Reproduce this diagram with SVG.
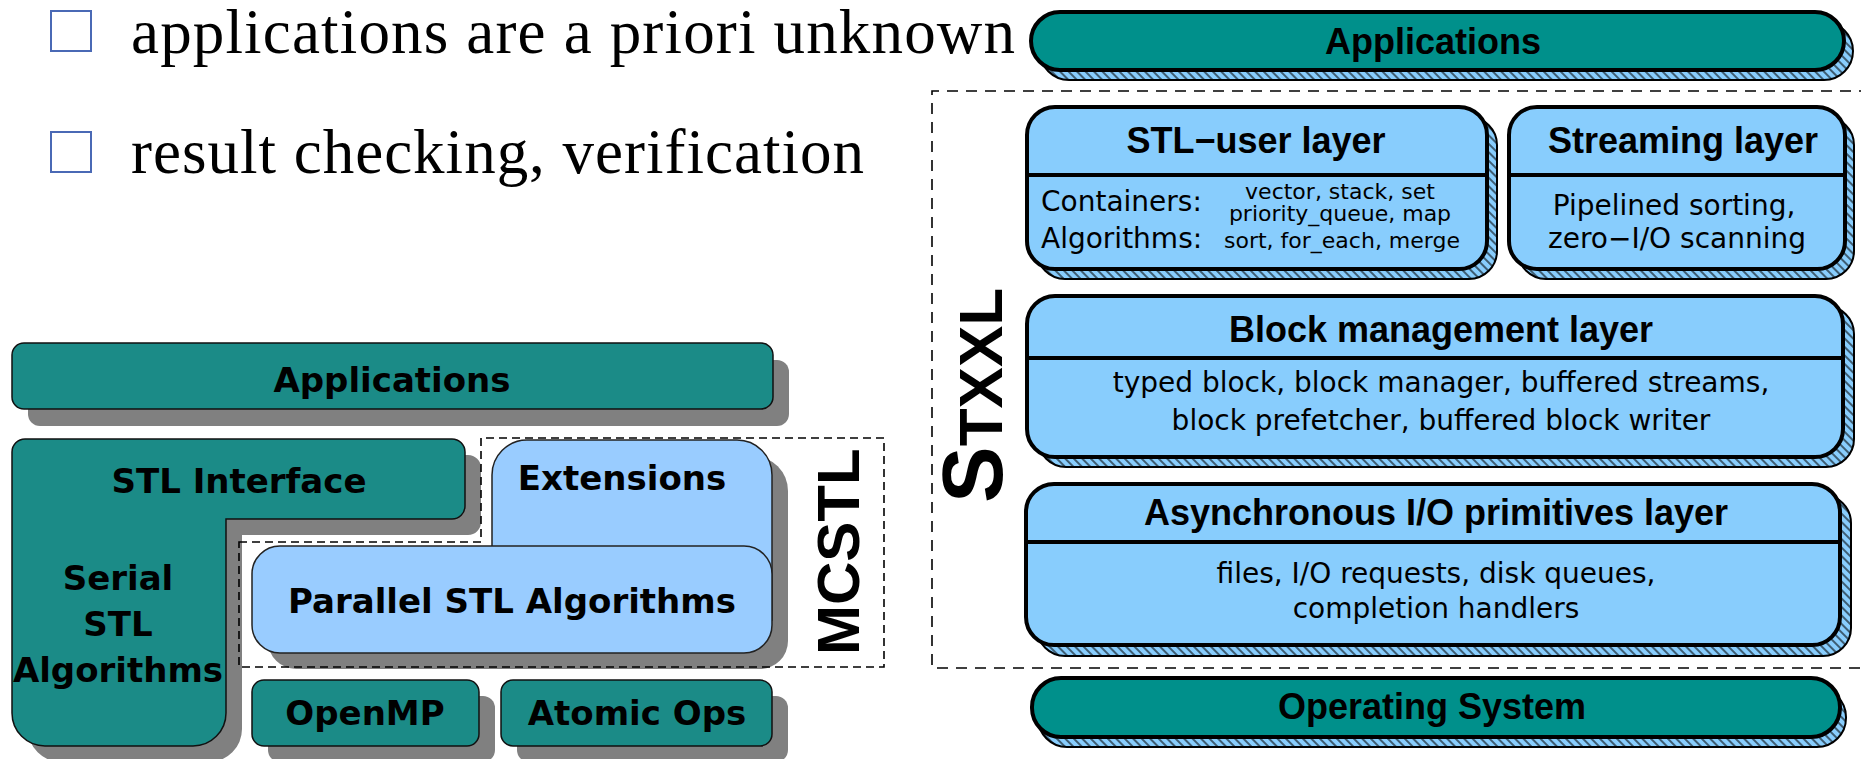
<svg xmlns="http://www.w3.org/2000/svg" width="1861" height="759" viewBox="0 0 1861 759">
<defs>
<pattern id="hatch" patternUnits="userSpaceOnUse" width="6" height="6" patternTransform="rotate(-45)">
<rect width="6" height="6" fill="#88cdfd"/>
<line x1="3" y1="0" x2="3" y2="6" stroke="#000" stroke-width="1.1"/>
</pattern>
<style>
.bul{font-family:"Liberation Serif",serif;font-size:63px;fill:#000}
.sq{fill:none;stroke:#4a69b5;stroke-width:2}
.lt{font-family:"DejaVu Sans",sans-serif;font-weight:bold;font-size:34px;fill:#000;text-anchor:middle}
.lteal{fill:#1b8b87;stroke:#111;stroke-width:1.5}
.lblue{fill:#99ccff;stroke:#222;stroke-width:1.5}
.lsh{fill:#808080}
.dash{fill:none;stroke:#000;stroke-width:1.6;stroke-dasharray:8 5}
.rdash{fill:none;stroke:#000;stroke-width:1.6;stroke-dasharray:11 8}
.rsh{fill:url(#hatch);stroke:#000;stroke-width:2}
.rblue{fill:#88cdfd;stroke:#000;stroke-width:4}
.rteal{fill:#00908b;stroke:#000;stroke-width:4}
.div{stroke:#000;stroke-width:4}
.rt{font-family:"Liberation Sans",sans-serif;font-weight:bold;font-size:36px;fill:#000;text-anchor:middle}
.rb{font-family:"DejaVu Sans",sans-serif;font-size:28px;fill:#000}
.rs{font-family:"DejaVu Sans",sans-serif;font-size:22px;fill:#000;text-anchor:middle}
.big{font-family:"Liberation Sans",sans-serif;font-weight:bold;fill:#000}
</style>
</defs>
<rect width="1861" height="759" fill="#fff"/>

<!-- bullets -->
<g id="bullet1">
<rect class="sq" x="51" y="11" width="40" height="40"/>
<text class="bul" x="131" y="53" textLength="884">applications are a priori unknown</text>
</g>
<g id="bullet2">
<rect class="sq" x="51" y="132" width="40" height="40"/>
<text class="bul" x="131" y="173" textLength="733">result checking, verification</text>
</g>

<!-- ===== MCSTL diagram (left) ===== -->
<g id="mcstl-shadows">
<rect class="lsh" x="28" y="360" width="761" height="66" rx="12"/>
<path class="lsh" d="M41,455 H468 A13,13 0 0 1 481,468 V522 A13,13 0 0 1 468,535 H242 V729 A33,33 0 0 1 209,762 H61 A33,33 0 0 1 28,729 V468 A13,13 0 0 1 41,455 Z"/>
<path class="lsh" d="M508,640 V491 A35,35 0 0 1 543,456 H753 A35,35 0 0 1 788,491 V640 Z"/>
<rect class="lsh" x="268" y="562" width="520" height="107" rx="28"/>
<rect class="lsh" x="268" y="696" width="227" height="66" rx="12"/>
<rect class="lsh" x="517" y="696" width="271" height="66" rx="12"/>
</g>
<g id="mcstl-boundary">
<path class="dash" d="M239,542 H481 V438 H884 V667 H239 Z"/>
<text class="big" font-size="60" transform="translate(859,655) rotate(-90)">MCSTL</text>
</g>
<g id="l-applications">
<rect class="lteal" x="12" y="343" width="761" height="66" rx="12"/>
<text class="lt" x="392" y="392">Applications</text>
</g>
<g id="l-stl-interface">
<path class="lteal" d="M25,439 H452 A13,13 0 0 1 465,452 V506 A13,13 0 0 1 452,519 H226 V713 A33,33 0 0 1 193,746 H45 A33,33 0 0 1 12,713 V452 A13,13 0 0 1 25,439 Z"/>
<text class="lt" x="239" y="493">STL Interface</text>
<text class="lt" x="118" y="590">Serial</text>
<text class="lt" x="118" y="636">STL</text>
<text class="lt" x="118" y="682">Algorithms</text>
</g>
<g id="l-extensions">
<path class="lblue" d="M492,620 V475 A35,35 0 0 1 527,440 H737 A35,35 0 0 1 772,475 V620 Z"/>
<text class="lt" x="622" y="490">Extensions</text>
</g>
<g id="l-parallel">
<rect class="lblue" x="252" y="546" width="520" height="107" rx="28"/>
<text class="lt" x="512" y="613">Parallel STL Algorithms</text>
</g>
<g id="l-openmp">
<rect class="lteal" x="252" y="680" width="227" height="66" rx="12"/>
<text class="lt" x="365" y="725">OpenMP</text>
</g>
<g id="l-atomic">
<rect class="lteal" x="501" y="680" width="271" height="66" rx="12"/>
<text class="lt" x="637" y="725">Atomic Ops</text>
</g>

<!-- ===== STXXL diagram (right) ===== -->
<g id="stxxl-boundary">
<path class="rdash" d="M1870,91 H932 V668 H1870"/>
<text class="big" transform="translate(1002,503) rotate(-90)"><tspan font-size="85">S</tspan><tspan font-size="62">TXXL</tspan></text>
</g>
<g id="r-applications">
<rect class="rsh" x="1040" y="22" width="813" height="58" rx="29"/>
<rect class="rteal" x="1031" y="12" width="813" height="58" rx="29"/>
<text class="rt" x="1433" y="54">Applications</text>
</g>
<g id="r-stl-user">
<rect class="rsh" x="1037" y="117" width="460" height="162" rx="28"/>
<rect class="rblue" x="1027" y="107" width="460" height="162" rx="28"/>
<line class="div" x1="1027" y1="175" x2="1487" y2="175"/>
<text class="rt" x="1256" y="153">STL−user layer</text>
<text class="rb" x="1041" y="211">Containers:</text>
<text class="rb" x="1041" y="248">Algorithms:</text>
<text class="rs" x="1340" y="199">vector, stack, set</text>
<text class="rs" x="1340" y="221">priority_queue, map</text>
<text class="rs" x="1342" y="248">sort, for_each, merge</text>
</g>
<g id="r-streaming">
<rect class="rsh" x="1518" y="117" width="336" height="162" rx="28"/>
<rect class="rblue" x="1509" y="107" width="336" height="162" rx="28"/>
<line class="div" x1="1509" y1="175" x2="1845" y2="175"/>
<text class="rt" x="1683" y="153">Streaming layer</text>
<text class="rb" x="1674" y="215" text-anchor="middle">Pipelined sorting,</text>
<text class="rb" x="1677" y="248" text-anchor="middle">zero−I/O scanning</text>
</g>
<g id="r-block">
<rect class="rsh" x="1038" y="306" width="816" height="161" rx="28"/>
<rect class="rblue" x="1027" y="296" width="816" height="161" rx="28"/>
<line class="div" x1="1027" y1="358" x2="1843" y2="358"/>
<text class="rt" x="1441" y="342">Block management layer</text>
<text class="rb" x="1441" y="392" text-anchor="middle">typed block, block manager, buffered streams,</text>
<text class="rb" x="1441" y="430" text-anchor="middle">block prefetcher, buffered block writer</text>
</g>
<g id="r-async">
<rect class="rsh" x="1037" y="495" width="814" height="161" rx="28"/>
<rect class="rblue" x="1026" y="484" width="814" height="161" rx="28"/>
<line class="div" x1="1026" y1="542" x2="1840" y2="542"/>
<text class="rt" x="1436" y="525">Asynchronous I/O primitives layer</text>
<text class="rb" x="1436" y="583" text-anchor="middle">files, I/O requests, disk queues,</text>
<text class="rb" x="1436" y="618" text-anchor="middle">completion handlers</text>
</g>
<g id="r-os">
<rect class="rsh" x="1038" y="688" width="808" height="59" rx="29"/>
<rect class="rteal" x="1032" y="678" width="808" height="59" rx="29"/>
<text class="rt" x="1432" y="719">Operating System</text>
</g>
</svg>
